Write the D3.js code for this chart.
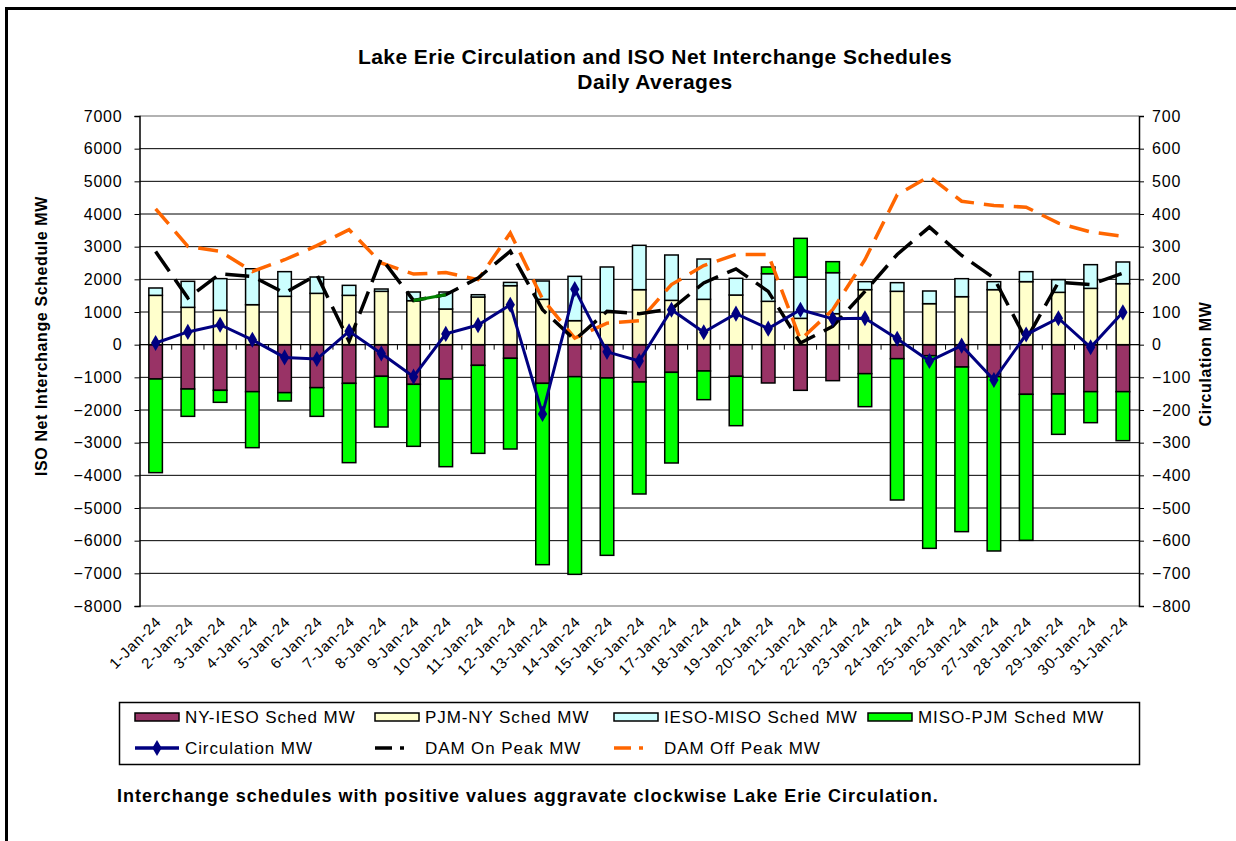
<!DOCTYPE html>
<html>
<head>
<meta charset="utf-8">
<script src="https://cdn.jsdelivr.net/npm/d3@7"></script>
<style>
  body { margin: 0; background: #fff; }
  svg { font-family: "Liberation Sans", Arial, sans-serif; }
</style>
</head>
<body>
<div id="chart"></div>
<script>
var days = [];
for (var i = 1; i <= 31; i++) days.push(i + "-Jan-24");

// schedules (MW), left axis
var nyIeso = [-1051,-1357,-1398,-1439,-1469,-1316,-1184,-969,-1214,-1051,-633,-418,-1184,-980,-1020,-1143,-847,-806,-969,-1173,-1398,-1102,-888,-429,-337,-684,-980,-1520,-1510,-1439,-1439];
var pjmNy = [1510,1143,1051,1224,1480,1571,1510,1633,1347,1092,1459,1806,1388,735,990,1684,1357,1388,1520,1327,806,949,1684,1633,1255,1469,1684,1929,1602,1724,1867];
var iesoMiso = [225,796,970,1100,755,500,306,71,265,520,70,100,561,1357,1388,1357,1388,1234,511,846,1265,1255,245,265,388,551,245,306,388,725,664];
var misoPjm = [-2867,-837,-367,-1714,-255,-878,-2428,-1551,-1898,-2684,-2694,-2776,-5551,-6051,-5429,-3428,-2775,-878,-1511,205,1184,337,-1010,-4326,-5898,-5040,-5336,-4470,-1235,-949,-1500];

// right axis series (MW)
var circulation = [5,39,61,15,-39,-44,41,-27,-98,33,60,122,-212,170,-22,-50,107,38,95,49,107,79,81,18,-50,-3,-108,31,81,-8,99];
var damOnPeak = [285,143,217,209,158,214,10,265,135,153,204,286,107,15,102,95,109,189,232,163,5,56,163,276,360,273,204,15,191,184,219];
var damOffPeak = [416,301,286,224,260,303,352,250,216,221,199,342,140,20,66,73,184,242,276,276,15,107,260,459,515,439,426,421,372,345,332];

var leftTicks = d3.range(-8000, 7001, 1000);
var rightTicks = d3.range(-800, 701, 100);

var barKeys = ["NY-IESO Sched MW", "PJM-NY Sched MW", "IESO-MISO Sched MW", "MISO-PJM Sched MW"];
var barColors = ["#993366", "#FFFFCC", "#CCFFFF", "#00FF00"];

var rows = days.map(function(d, i) {
    var r = { day: d };
    r[barKeys[0]] = nyIeso[i];
    r[barKeys[1]] = pjmNy[i];
    r[barKeys[2]] = iesoMiso[i];
    r[barKeys[3]] = misoPjm[i];
    return r;
});

var W = 1236, H = 841;
var plot = { left: 139.5, right: 1139, top: 116, bottom: 606 };

var svg = d3.select("#chart").append("svg")
    .attr("width", W).attr("height", H);

// outer frame
svg.append("rect")
    .attr("x", 6.5).attr("y", 8.5)
    .attr("width", 1300).attr("height", 900)
    .attr("fill", "none").attr("stroke", "#000").attr("stroke-width", 3);

var x = d3.scaleBand().domain(days).range([plot.left, plot.right]).padding(0);
var y = d3.scaleLinear().domain([-8000, 7000]).range([plot.bottom, plot.top]);
var y2 = d3.scaleLinear().domain([-800, 700]).range([plot.bottom, plot.top]);
var barW = x.bandwidth() * 0.42;
function cx(i) { return x(days[i]) + x.bandwidth() / 2; }

// gridlines
svg.append("g").selectAll("line")
    .data(leftTicks.filter(function(t) { return t > -8000 && t < 7000; }))
    .enter().append("line")
    .attr("x1", plot.left).attr("x2", plot.right)
    .attr("y1", function(d) { return y(d); }).attr("y2", function(d) { return y(d); })
    .attr("stroke", "#000").attr("stroke-width", 1);

// plot border top/bottom (gray)
svg.append("line").attr("x1", plot.left).attr("x2", plot.right)
    .attr("y1", plot.top).attr("y2", plot.top).attr("stroke", "#999").attr("stroke-width", 1.5);
svg.append("line").attr("x1", plot.left).attr("x2", plot.right)
    .attr("y1", plot.bottom).attr("y2", plot.bottom).attr("stroke", "#999").attr("stroke-width", 1.5);

// stacked bars
var series = d3.stack().keys(barKeys).offset(d3.stackOffsetDiverging)(rows);
svg.append("g").selectAll("g")
    .data(series).enter().append("g")
    .attr("fill", function(d, i) { return barColors[i]; })
    .selectAll("rect")
    .data(function(d) { return d; })
    .enter().append("rect")
    .attr("x", function(d) { return x(d.data.day) + (x.bandwidth() - barW) / 2; })
    .attr("width", barW)
    .attr("y", function(d) { return y(d[1]); })
    .attr("height", function(d) { return Math.abs(y(d[0]) - y(d[1])); })
    .attr("stroke", "#000").attr("stroke-width", 1.5);

// left axis
var yAxis = d3.axisLeft(y).tickValues(leftTicks).tickFormat(d3.format("d")).tickSize(5).tickPadding(12);
var gy = svg.append("g").attr("transform", "translate(" + plot.left + ",0)").call(yAxis);
gy.select(".domain").attr("stroke", "#000").attr("stroke-width", 1.5);
gy.selectAll("text").style("font-size", "16px").style("letter-spacing", "0.8px").attr("fill", "#000");

// right axis
var y2Axis = d3.axisRight(y2).tickValues(rightTicks).tickFormat(d3.format("d")).tickSize(5).tickPadding(8);
var gy2 = svg.append("g").attr("transform", "translate(" + plot.right + ",0)").call(y2Axis);
gy2.select(".domain").attr("stroke", "#000").attr("stroke-width", 1.5);
gy2.selectAll("text").style("font-size", "16px").style("letter-spacing", "0.8px").attr("fill", "#000");

// x axis on zero line
svg.append("line").attr("x1", plot.left).attr("x2", plot.right)
    .attr("y1", y(0)).attr("y2", y(0)).attr("stroke", "#000").attr("stroke-width", 1);
svg.append("g").selectAll("line")
    .data(days).enter().append("line")
    .attr("x1", function(d) { return x(d); }).attr("x2", function(d) { return x(d); })
    .attr("y1", y(0)).attr("y2", y(0) + 5)
    .attr("stroke", "#000").attr("stroke-width", 1);

// category labels
svg.append("g").selectAll("text")
    .data(days).enter().append("text")
    .attr("transform", function(d, i) {
        return "translate(" + (cx(i) + 3) + "," + (plot.bottom + 13) + ") rotate(-45)";
    })
    .attr("text-anchor", "end")
    .attr("dy", "0.35em")
    .style("font-size", "15px").style("letter-spacing", "0.9px")
    .text(function(d) { return d; });

// lines on right axis
var line = d3.line()
    .x(function(d, i) { return cx(i); })
    .y(function(d) { return y2(d); });

svg.append("path").datum(damOffPeak)
    .attr("d", line).attr("fill", "none")
    .attr("stroke", "#FF6600").attr("stroke-width", 3.5)
    .attr("stroke-dasharray", "20,10");

svg.append("path").datum(damOnPeak)
    .attr("d", line).attr("fill", "none")
    .attr("stroke", "#000").attr("stroke-width", 3.5)
    .attr("stroke-dasharray", "24,10");

// one segment of the on peak line is drawn green in the source
svg.append("line")
    .attr("x1", cx(8)).attr("y1", y2(damOnPeak[8]))
    .attr("x2", cx(9)).attr("y2", y2(damOnPeak[9]))
    .attr("stroke", "#008000").attr("stroke-width", 3);

svg.append("path").datum(circulation)
    .attr("d", line).attr("fill", "none")
    .attr("stroke", "#000080").attr("stroke-width", 3);

var diamond = d3.symbol().type(d3.symbolDiamond).size(75);
svg.append("g").selectAll("path")
    .data(circulation).enter().append("path")
    .attr("d", diamond)
    .attr("transform", function(d, i) { return "translate(" + cx(i) + "," + y2(d) + ")"; })
    .attr("fill", "#000080");

// titles
svg.append("text").attr("x", 655).attr("y", 64)
    .attr("text-anchor", "middle").style("font-size", "21px").style("font-weight", "bold")
    .style("letter-spacing", "0.45px")
    .text("Lake Erie Circulation and ISO Net Interchange Schedules");
svg.append("text").attr("x", 655).attr("y", 89)
    .attr("text-anchor", "middle").style("font-size", "21px").style("font-weight", "bold")
    .style("letter-spacing", "0.45px")
    .text("Daily Averages");

svg.append("text")
    .attr("transform", "translate(47,336) rotate(-90)")
    .attr("text-anchor", "middle").style("font-size", "16px").style("font-weight", "bold")
    .style("letter-spacing", "0.6px")
    .text("ISO Net Interchange Schedule MW");
svg.append("text")
    .attr("transform", "translate(1211,364) rotate(-90)")
    .attr("text-anchor", "middle").style("font-size", "16px").style("font-weight", "bold")
    .style("letter-spacing", "0.6px")
    .text("Circulation MW");

// legend
var legend = svg.append("g");
legend.append("rect")
    .attr("x", 119.5).attr("y", 702.5).attr("width", 1020).attr("height", 62)
    .attr("fill", "#fff").attr("stroke", "#000").attr("stroke-width", 1.5);

var legX = [135, 375, 614, 868];
barKeys.forEach(function(k, i) {
    legend.append("rect")
        .attr("x", legX[i]).attr("y", 713).attr("width", 44).attr("height", 8)
        .attr("fill", barColors[i]).attr("stroke", "#000").attr("stroke-width", 1.5);
    legend.append("text")
        .attr("x", legX[i] + 50).attr("y", 723)
        .style("font-size", "17px").style("letter-spacing", "0.9px").text(k);
});

var lineLegend = [
    { name: "Circulation MW", color: "#000080", dash: null, marker: true },
    { name: "DAM On Peak MW", color: "#000", dash: "17,8,4,20", marker: false },
    { name: "DAM Off Peak MW", color: "#FF6600", dash: "17,8,4,20", marker: false }
];
lineLegend.forEach(function(l, i) {
    legend.append("line")
        .attr("x1", legX[i]).attr("x2", legX[i] + 44)
        .attr("y1", 748).attr("y2", 748)
        .attr("stroke", l.color).attr("stroke-width", 3.5)
        .attr("stroke-dasharray", l.dash);
    if (l.marker) {
        legend.append("path").attr("d", diamond)
            .attr("transform", "translate(" + (legX[i] + 22) + ",748)")
            .attr("fill", l.color);
    }
    legend.append("text")
        .attr("x", legX[i] + 50).attr("y", 754)
        .style("font-size", "17px").style("letter-spacing", "0.9px").text(l.name);
});

svg.append("text").attr("x", 117).attr("y", 802)
    .style("font-size", "18px").style("font-weight", "bold").style("letter-spacing", "0.97px")
    .text("Interchange schedules with positive values aggravate clockwise Lake Erie Circulation.");
</script>
</body>
</html>
